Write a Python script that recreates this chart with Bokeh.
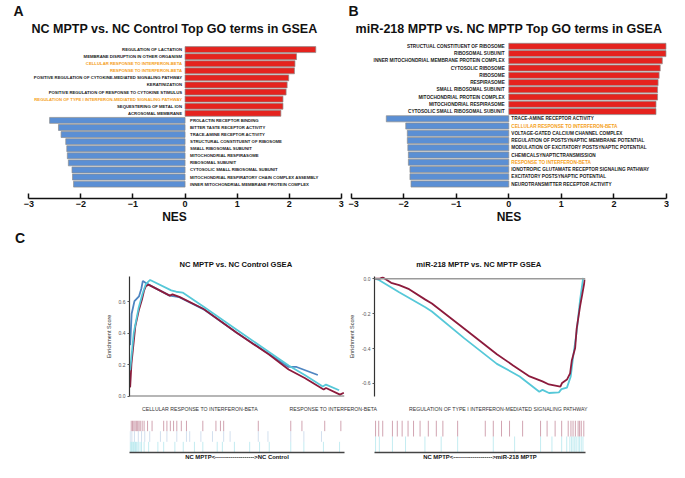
from bokeh.plotting import figure
from bokeh.models import (Range1d, Span, Legend, LegendItem, ColumnDataSource,
                          FixedTicker, PrintfTickFormatter, Title)
from bokeh.layouts import column, row
from bokeh.embed import file_html
from bokeh.resources import INLINE
from bokeh.core.properties import value

FONT = "Liberation Sans"
RED = "#E5231E"
BLUE = "#5B8FD4"
ORANGE = "#F5A01A"
CYAN = "#56C8D8"
MAROON = "#8C1B3C"
STEEL = "#4E85C1"

# ---------------- Panel A data ----------------
a_terms = [
    "REGULATION OF LACTATION",
    "MEMBRANE DISRUPTION IN OTHER ORGANISM",
    "CELLULAR RESPONSE TO INTERFERON-BETA",
    "RESPONSE TO INTERFERON-BETA",
    "POSITIVE REGULATION OF CYTOKINE-MEDIATED SIGNALING PATHWAY",
    "KERATINIZATION",
    "POSITIVE REGULATION OF RESPONSE TO CYTOKINE STIMULUS",
    "REGULATION OF TYPE I INTERFERON-MEDIATED SIGNALING PATHWAY",
    "SEQUESTERING OF METAL ION",
    "ACROSOMAL MEMBRANE",
    "PROLACTIN RECEPTOR BINDING",
    "BITTER TASTE RECEPTOR ACTIVITY",
    "TRACE-AMINE RECEPTOR ACTIVITY",
    "STRUCTURAL CONSTITUENT OF RIBOSOME",
    "SMALL RIBOSOMAL SUBUNIT",
    "MITOCHONDRIAL RESPIRASOME",
    "RIBOSOMAL SUBUNIT",
    "CYTOSOLIC SMALL RIBOSOMAL SUBUNIT",
    "MITOCHONDRIAL RESPIRATORY CHAIN COMPLEX ASSEMBLY",
    "INNER MITOCHONDRIAL MEMBRANE PROTEIN COMPLEX",
]
a_nes = [2.51, 2.14, 2.11, 2.10, 1.99, 1.96, 1.94, 1.88, 1.88, 1.84,
         -2.60, -2.43, -2.38, -2.29, -2.27, -2.26, -2.24, -2.17, -2.16, -2.14]
a_highlight = ["CELLULAR RESPONSE TO INTERFERON-BETA",
               "RESPONSE TO INTERFERON-BETA",
               "REGULATION OF TYPE I INTERFERON-MEDIATED SIGNALING PATHWAY"]

# ---------------- Panel B data ----------------
b_terms = [
    "STRUCTUAL CONSTITUENT OF RIBOSOME",
    "RIBOSOMAL SUBUNIT",
    "INNER MITOCHONDRIAL MEMBRANE PROTEIN COMPLEX",
    "CYTOSOLIC RIBOSOME",
    "RIBOSOME",
    "RESPIRASOME",
    "SMALL RIBOSOMAL SUBUNIT",
    "MITOCHONDRIAL PROTEIN COMPLEX",
    "MITOCHONDRIAL RESPIRASOME",
    "CYTOSOLIC SMALL RIBOSOMAL SUBUNIT",
    "TRACE-AMINE RECEPTOR ACTIVITY",
    "CELLULAR RESPONSE TO INTERFERON-BETA",
    "VOLTAGE-GATED CALCIUM CHANNEL COMPLEX",
    "REGULATION OF POSTSYNAPTIC MEMBRANE POTENTIAL",
    "MODULATION OF EXCITATORY POSTSYNAPTIC POTENTIAL",
    "CHEMICALSYNAPTICTRANSMISSION",
    "RESPONSE TO INTERFERON-BETA",
    "IONOTROPIC GLUTAMATE RECEPTOR SIGNALING PATHWAY",
    "EXCITATORY POSTSYNAPTIC POTENTIAL",
    "NEUROTRANSMITTER RECEPTOR ACTIVITY",
]
b_nes = [2.99, 2.99, 2.92, 2.88, 2.86, 2.84, 2.83, 2.83, 2.80, 2.80,
         -2.33, -1.96, -1.93, -1.93, -1.92, -1.91, -1.91, -1.88, -1.88, -1.86]
b_highlight = ["CELLULAR RESPONSE TO INTERFERON-BETA", "RESPONSE TO INTERFERON-BETA"]

nes_ticks = [-3, -2, -1, 0, 1, 2, 3]

# ---------------- Panel C data (x = % of ranked list) ----------------
l_cyan_x = [0.3, 2.0, 4.3, 6.1, 7.6, 9.6, 19.4, 21.7, 24.7, 34.5, 49.7, 64.9, 74.0, 81.5, 89.9, 91.4, 97.5]
l_cyan_y = [0.165, 0.405, 0.565, 0.654, 0.714, 0.740, 0.674, 0.665, 0.660, 0.569, 0.425, 0.281, 0.195, 0.135, 0.062, 0.074, 0.038]
l_red_x = [0.3, 0.9, 2.7, 4.3, 5.8, 6.8, 7.6, 8.8, 18.7, 20.0, 23.2, 34.5, 49.7, 64.9, 74.0, 81.5, 90.3, 91.4, 97.9, 99.7]
l_red_y = [0.056, 0.205, 0.445, 0.545, 0.615, 0.674, 0.700, 0.710, 0.640, 0.648, 0.632, 0.555, 0.405, 0.265, 0.170, 0.116, 0.042, 0.052, 0.010, 0.022]
l_blue_x = [0.3, 1.0, 2.3, 4.4, 5.5, 6.2, 7.6, 18.7, 23.2, 34.5, 49.7, 64.9, 74.0, 77.7, 87.6]
l_blue_y = [0.325, 0.525, 0.605, 0.635, 0.684, 0.734, 0.720, 0.640, 0.630, 0.553, 0.405, 0.268, 0.186, 0.186, 0.135]

r_red_x = [0.0, 2.5, 4.0, 7.9, 11.7, 16.4, 24.1, 27.2, 42.6, 58.0, 65.7, 73.5, 79.6, 82.7, 88.1, 88.9, 91.2, 92.7, 93.5, 95.1, 95.8, 97.4, 98.5, 99.7]
r_red_y = [0.0, 0.0, 0.007, -0.024, -0.037, -0.060, -0.120, -0.142, -0.287, -0.433, -0.497, -0.560, -0.588, -0.606, -0.619, -0.597, -0.578, -0.542, -0.469, -0.397, -0.287, -0.160, -0.087, -0.005]
r_cyan_x = [0.0, 1.7, 11.7, 24.1, 27.2, 42.6, 58.0, 68.8, 78.1, 79.6, 82.7, 87.4, 88.6, 91.2, 93.0, 94.3, 95.8, 97.4, 98.9]
r_cyan_y = [0.0, -0.005, -0.078, -0.164, -0.188, -0.342, -0.488, -0.560, -0.648, -0.637, -0.655, -0.651, -0.633, -0.624, -0.560, -0.433, -0.305, -0.124, 0.004]

l_hits_red = [0.8, 1.4, 2.0, 2.6, 3.2, 3.8, 4.4, 5.0, 5.9, 6.8, 8.4, 10.5, 15.9, 17.4, 19.0, 20.5,
              22.0, 24.1, 26.5, 34.1, 40.2, 42.3, 43.8, 59.9, 75.0, 80.2, 90.8, 98.3]
l_hits_blue = [0.3, 1.1, 2.3, 4.1, 5.6, 7.1, 9.4, 14.4, 17.4, 22.0, 26.5, 28.0, 33.2, 38.6, 43.8,
               46.8, 59.9, 64.4, 75.0, 81.1, 89.3]
l_hits_cyan = [0.3, 0.8, 1.2, 1.7, 2.1, 2.6, 3.0, 3.5, 4.1, 4.9, 5.6, 6.8, 8.9, 13.2, 15.9, 21.1,
               25.0, 30.2, 34.1, 40.8, 43.2, 48.8, 55.9, 60.5, 65.0, 75.0, 81.1, 90.2, 97.7]
r_hits_red = [0.5, 2.0, 3.9, 8.5, 10.8, 13.1, 15.9, 18.5, 21.6, 25.5, 29.3, 32.4, 39.4, 52.5, 56.3,
              60.2, 64.0, 70.2, 78.7, 81.8, 85.6, 88.7, 91.8, 93.1, 94.1, 95.2, 96.5, 97.2, 98.0, 99.2]
r_hits_cyan = [0.5, 2.3, 8.5, 14.7, 23.9, 31.6, 39.4, 56.3, 66.4, 78.7, 84.1, 88.7, 91.1, 92.6,
               93.4, 94.1, 94.9, 95.6, 96.5, 97.2, 98.0, 98.8]

legend_labels = ["CELLULAR RESPONSE TO INTERFERON-BETA",
                 "RESPONSE TO INTERFERON-BETA",
                 "REGULATION OF TYPE I INTERFERON-MEDIATED SIGNALING PATHWAY"]


def base_fig(**kw):
    p = figure(output_backend="svg", toolbar_location=None, **kw)
    p.outline_line_color = None
    p.xgrid.visible = False
    p.ygrid.visible = False
    p.title.text_font = FONT
    p.title.text_font_style = "bold"
    p.title.text_color = "#111111"
    p.title.align = "center"
    return p


def letter(text, offset, standoff=0, size="14px"):
    return Title(text=text, align="left", offset=offset, standoff=standoff, text_font=FONT,
                 text_font_style="bold", text_font_size=size, text_color="#111111")


TOP_H = 246


def bar_panel(terms, nes, highlight, title, letter_text, letter_offset, width, xr, yr,
              label_px, gap_pos, gap_neg):
    p = base_fig(width=width, height=TOP_H, x_range=Range1d(*xr), y_range=Range1d(*yr),
                 min_border_left=0, min_border_right=0, min_border_top=36, min_border_bottom=44,
                 y_axis_location=None)
    p.title = letter(letter_text, letter_offset)
    p.add_layout(Title(text=title, align="center", standoff=3, text_font=FONT,
                       text_font_style="bold", text_font_size="12.5px", text_color="#111111"),
                 "above")
    rows = list(range(len(terms)))
    fill = [RED if v > 0 else BLUE for v in nes]
    src = ColumnDataSource(dict(row=rows, nes=nes, fill=fill))
    p.hbar(y="row", left=0, right="nes", height=0.84, fill_color="fill",
           line_color="#8c8c8c", line_width=0.7, source=src)
    for sign, align, off in ((1, "right", -gap_pos), (-1, "left", gap_neg)):
        sel = [i for i in rows if (nes[i] > 0) == (sign > 0)]
        s = ColumnDataSource(dict(
            row=sel, term=[terms[i] for i in sel],
            tcol=[ORANGE if terms[i] in highlight else "#1a1a1a" for i in sel]))
        p.text(x=0, y="row", text="term", source=s, text_align=align, text_baseline="middle",
               x_offset=off, text_color="tcol", text_font=value(FONT), text_font_style="bold",
               text_font_size=f"{label_px}px")
    ax = p.xaxis[0]
    ax.ticker = FixedTicker(ticks=nes_ticks)
    ax.bounds = (min(nes_ticks), max(nes_ticks))
    ax.major_tick_in = 5
    ax.major_tick_out = 0
    ax.minor_tick_line_color = None
    ax.axis_line_width = 1.5
    ax.major_tick_line_width = 1.5
    ax.axis_line_color = "#111111"
    ax.major_tick_line_color = "#111111"
    ax.major_label_text_font = FONT
    ax.major_label_text_font_style = "bold"
    ax.major_label_text_font_size = "9px"
    ax.major_label_text_color = "#111111"
    ax.major_label_standoff = 2
    ax.axis_label = "NES"
    ax.axis_label_text_font = FONT
    ax.axis_label_text_font_style = "bold"
    ax.axis_label_text_font_size = "12px"
    ax.axis_label_text_color = "#111111"
    ax.axis_label_standoff = 0
    return p


pa = bar_panel(a_terms, a_nes, a_highlight, "NC MPTP vs. NC Control Top GO terms in GSEA",
               "A", 13, 348, (-3.543, 3.138), (21.03, -1.705), 4.25, 3, 5)
pb = bar_panel(b_terms, b_nes, b_highlight, "miR-218 MPTP vs. NC MPTP Top GO terms in GSEA",
               "B", 0, 321, (-3.049, 3.057), (21.0, -1.218), 4.7, 4, 2.5)
# panel letter C sits under panel A's axis
pa.add_layout(letter("C", 14.6, standoff=2), "below")

ES_H = 156


def es_fig(width, bl, br, bt, bb, yr, ticks, title, title_offset):
    p = base_fig(width=width, height=ES_H, x_range=Range1d(0, 100), y_range=Range1d(*yr),
                 min_border_left=bl, min_border_right=br, min_border_top=bt, min_border_bottom=bb,
                 x_axis_location=None, title=title)
    p.title.text_font_size = "7.6px"
    p.title.standoff = 15
    p.title.offset = title_offset
    ax = p.yaxis[0]
    ax.ticker = FixedTicker(ticks=ticks)
    ax.formatter = PrintfTickFormatter(format="%.1f")
    ax.axis_line_color = "#333333"
    ax.axis_line_width = 1.2
    ax.major_tick_in = 0
    ax.major_tick_out = 2
    ax.major_tick_line_color = "#555555"
    ax.minor_tick_line_color = None
    ax.major_label_text_font = FONT
    ax.major_label_text_font_size = "5px"
    ax.major_label_text_color = "#555555"
    ax.major_label_standoff = 2
    ax.axis_label = "Enrichment Score"
    ax.axis_label_text_font = FONT
    ax.axis_label_text_font_style = "normal"
    ax.axis_label_text_font_size = "5.5px"
    ax.axis_label_text_color = "#333333"
    ax.axis_label_standoff = 4
    return p


pl = es_fig(345, 129, 1, 27, 6, (-0.002, 0.762), [0.0, 0.2, 0.4, 0.6],
            "NC MPTP vs. NC Control  GSEA", -5)
pl.add_layout(Span(location=0, dimension="width", line_color="#6f6f6f", line_width=1.6))
pl.line(l_blue_x, l_blue_y, line_color=STEEL, line_width=1.8)
pl.line(l_red_x, l_red_y, line_color=MAROON, line_width=1.8)
pl.line(l_cyan_x, l_cyan_y, line_color=CYAN, line_width=1.8)

pr = es_fig(324, 29, 84, 30, 5, (-0.675, 0.0125), [0.0, -0.2, -0.4, -0.6],
            "miR-218 MPTP vs. NC MPTP  GSEA", 0)
pr.add_layout(Span(location=0, dimension="width", line_color="#9a9a9a", line_width=1.6))
pr.line(r_cyan_x, r_cyan_y, line_color=CYAN, line_width=1.8)
pr.line(r_red_x, r_red_y, line_color=MAROON, line_width=1.8)

# legend strip
pg = base_fig(width=669, height=12, x_range=Range1d(0, 1), y_range=Range1d(0, 1),
              min_border=0, x_axis_location=None, y_axis_location=None)
rends = [pg.line(x=[], y=[], line_color=c, line_width=2.5) for c in (CYAN, MAROON, STEEL)]
leg = Legend(items=[LegendItem(label=t, renderers=[r]) for t, r in zip(legend_labels, rends)],
             orientation="horizontal", location=(129, 2), spacing=19, glyph_width=7,
             glyph_height=7, label_height=7, label_standoff=6, padding=0, margin=0,
             border_line_alpha=0, background_fill_alpha=0, label_text_font=FONT,
             label_text_font_size="5.2px", label_text_color="#333333")
pg.add_layout(leg)


def rug_fig(width, bl, br, rows, xlabel):
    n = len(rows)
    p = base_fig(width=width, height=48, x_range=Range1d(0, 100), y_range=Range1d(0, n),
                 min_border_left=bl, min_border_right=br, min_border_top=6, min_border_bottom=8,
                 y_axis_location=None)
    for i, (hits, color, alpha) in enumerate(rows):
        k = n - 1 - i
        p.segment(x0=hits, x1=hits, y0=[k] * len(hits), y1=[k + 1] * len(hits),
                  line_color=color, line_alpha=alpha, line_width=1)
    ax = p.xaxis[0]
    ax.ticker = FixedTicker(ticks=[])
    ax.axis_line_color = "#444444"
    ax.axis_line_width = 1.5
    ax.major_label_text_font_size = "0px"
    ax.axis_label = xlabel
    ax.axis_label_text_font = FONT
    ax.axis_label_text_font_style = "bold"
    ax.axis_label_text_font_size = "5.9px"
    ax.axis_label_text_color = "#111111"
    ax.axis_label_standoff = 1
    return p


ql = rug_fig(345, 129, 1, [(l_hits_red, MAROON, 0.4), (l_hits_blue, STEEL, 0.25),
                           (l_hits_cyan, CYAN, 0.35)],
             "NC MPTP<-------------------->NC Control")
qr = rug_fig(324, 29, 84, [(r_hits_red, MAROON, 0.4), (r_hits_cyan, CYAN, 0.35)],
             "NC MPTP<-------------------->miR-218 MPTP")

layout = column(row(pa, pb), row(pl, pr), pg, row(ql, qr))
open("out.html", "w").write(file_html(layout, INLINE))
